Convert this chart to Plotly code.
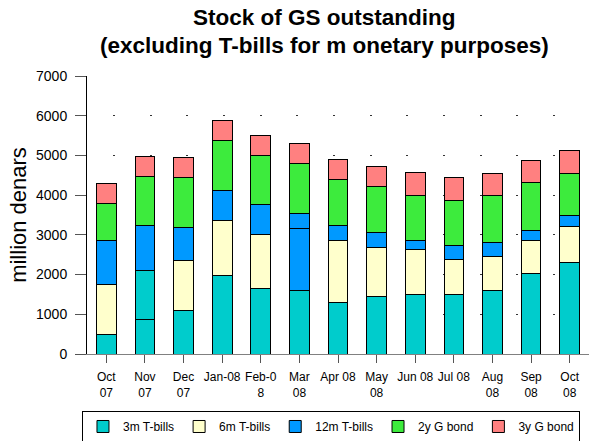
import plotly.graph_objects as go

months = ["Oct<br>07", "Nov<br>07", "Dec<br>07", "Jan-08", "Feb-0<br>8", "Mar<br>08", "Apr 08",
          "May<br>08", "Jun 08", "Jul 08", "Aug<br>08", "Sep<br>08", "Oct<br>08"]
t_bills_3m = [500, 860, 1100, 1980, 1650, 1610, 1300, 1450, 1500, 1500, 1590, 2030, 2310]
t_bills_6m = [1240, 1240, 1260, 1380, 1360, 1560, 1560, 1230, 1130, 880, 870, 830, 910]
t_bills_12m = [1130, 1130, 830, 750, 750, 370, 380, 380, 220, 340, 340, 260, 260]
g_bond_2y = [920, 1240, 1250, 1260, 1240, 1250, 1160, 1150, 1150, 1150, 1190, 1190, 1070]
g_bond_3y = [500, 500, 510, 500, 510, 510, 500, 500, 570, 570, 560, 570, 580]
title_lines = ["Stock of GS outstanding", "(excluding T-bills for m onetary purposes)"]

series = [
    ("3m T-bills", t_bills_3m, "#00CCCC"),
    ("6m T-bills", t_bills_6m, "#FFFFCC"),
    ("12m T-bills", t_bills_12m, "#0099FF"),
    ("2y G bond", g_bond_2y, "#3DEB3D"),
    ("3y G bond", g_bond_3y, "#FF8080"),
]

fig = go.Figure()
for name, vals, col in series:
    colors = [col] * len(vals)
    if name == "6m T-bills":
        colors[1] = "#00CCCC"
        colors[5] = "#0099FF"
    fig.add_trace(go.Bar(
        x=months, y=vals, name=name,
        marker=dict(color=colors, line=dict(color="black", width=1)),
        width=0.51,
    ))

# title lines as annotations (paper coords: plot spans 76..354 px from top)
H = 278.0
for text, ypx in zip(title_lines, [18, 45]):
    fig.add_annotation(
        text="<b>" + text + "</b>", xref="paper", yref="paper",
        x=(324 - 87) / 502.0, y=(354 - ypx) / H, xanchor="center", yanchor="middle",
        showarrow=False, font=dict(size=22.5, color="black"),
    )

fig.update_layout(
    barmode="stack",
    width=589, height=441,
    margin=dict(l=87, r=0, t=76, b=87, autoexpand=False),
    paper_bgcolor="white", plot_bgcolor="white",
    font=dict(family="Arial, Liberation Sans, sans-serif", color="black"),
    showlegend=True,
    legend=dict(
        orientation="h", x=0.486, xanchor="center", y=-0.205, yanchor="top",
        bordercolor="black", borderwidth=1, font=dict(size=12),
        itemwidth=30, traceorder="normal",
    ),
    xaxis=dict(
        showline=True, linecolor="#808080", linewidth=1,
        ticks="outside", ticklen=8, tickcolor="#555555",
        tickfont=dict(size=12), tickangle=0, ticklabelstandoff=4,
        range=[-0.5, 12.5],
    ),
    yaxis=dict(
        range=[0, 7000], dtick=1000,
        showline=True, linecolor="black", linewidth=1,
        ticks="outside", ticklen=11, tickcolor="#555555",
        tickfont=dict(size=14), ticklabelstandoff=5,
        showgrid=True, gridcolor="#333333", gridwidth=1, griddash="0px,26px,2px,8.67px",
        zeroline=False,
        title=dict(text="million denars", font=dict(size=22), standoff=3),
    ),
)

fig.write_html("out.html", config={"displayModeBar": False},
               post_script="document.body.style.margin='0';")
